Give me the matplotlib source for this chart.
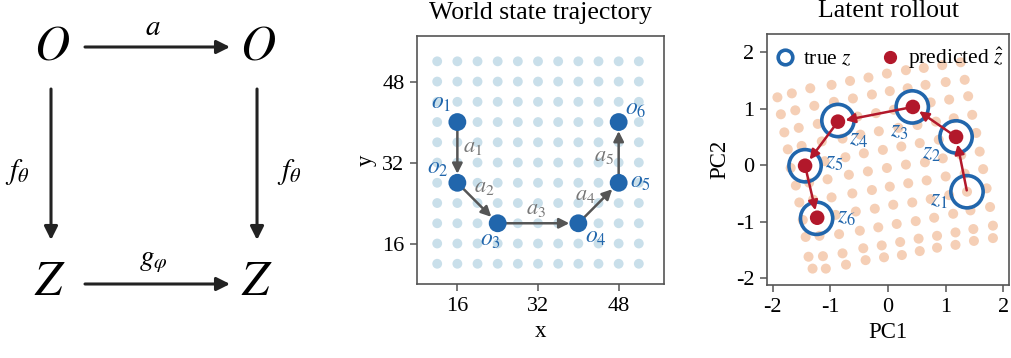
import numpy as np
import matplotlib
matplotlib.use("Agg")
import matplotlib.pyplot as plt
from matplotlib.lines import Line2D

plt.rcParams['font.family'] = ['Liberation Serif', 'DejaVu Serif']
plt.rcParams['mathtext.fontset'] = 'stix'
plt.rcParams['axes.unicode_minus'] = False

# ---------------- data ----------------
grid_x = [12, 16, 20, 24, 28, 32, 36, 40, 44, 48, 52]
grid_y = [12, 16, 20, 24, 28, 32, 36, 40, 44, 48, 52]
traj_x = [16, 16, 24, 40, 48, 48]
traj_y = [40, 28, 20, 20, 28, 40]
world_ticks = [16, 32, 48]

# latent embedding of the grid: rows = world y index, cols = world x index
latent_pc1 = [
    [1.26, 0.94, 0.62, 0.31, -0.02, -0.34, -0.66, -0.98, -1.35, -1.67, -1.92],
    [1.33, 1.00, 0.65, 0.34, 0.03, -0.28, -0.61, -0.94, -1.28, -1.61, -1.86],
    [1.39, 1.06, 0.74, 0.42, 0.10, -0.21, -0.53, -0.87, -1.22, -1.55, -1.80],
    [1.46, 1.14, 0.83, 0.51, 0.18, -0.16, -0.48, -0.79, -1.15, -1.50, -1.74],
    [1.53, 1.18, 0.88, 0.55, 0.23, -0.09, -0.42, -0.74, -1.10, -1.44, -1.69],
    [1.59, 1.27, 0.95, 0.64, 0.31, -0.02, -0.35, -0.68, -1.05, -1.37, -1.60],
    [1.65, 1.33, 1.00, 0.67, 0.35, 0.03, -0.28, -0.62, -0.98, -1.30, -1.54],
    [1.71, 1.37, 1.06, 0.74, 0.42, 0.09, -0.23, -0.56, -0.91, -1.24, -1.48],
    [1.77, 1.43, 1.13, 0.80, 0.48, 0.15, -0.17, -0.49, -0.85, -1.19, -1.43],
    [1.82, 1.48, 1.17, 0.85, 0.53, 0.21, -0.11, -0.43, -0.79, -1.13, -1.38],
    [1.82, 1.49, 1.17, 0.85, 0.55, 0.24, -0.07, -0.39, -0.73, -1.08, -1.31],
]
latent_pc2 = [
    [1.82, 1.77, 1.72, 1.68, 1.62, 1.55, 1.49, 1.42, 1.36, 1.27, 1.20],
    [1.51, 1.47, 1.42, 1.36, 1.31, 1.25, 1.18, 1.12, 1.05, 0.97, 0.90],
    [1.22, 1.16, 1.11, 1.03, 0.98, 0.92, 0.86, 0.79, 0.73, 0.66, 0.58],
    [0.89, 0.83, 0.77, 0.71, 0.66, 0.60, 0.54, 0.47, 0.42, 0.34, 0.28],
    [0.57, 0.50, 0.45, 0.39, 0.33, 0.27, 0.21, 0.14, 0.07, -0.01, -0.05],
    [0.24, 0.18, 0.12, 0.05, 0.01, -0.05, -0.11, -0.17, -0.25, -0.31, -0.36],
    [-0.07, -0.15, -0.20, -0.27, -0.32, -0.38, -0.44, -0.50, -0.57, -0.61, -0.66],
    [-0.41, -0.47, -0.53, -0.60, -0.66, -0.70, -0.77, -0.82, -0.88, -0.94, -0.97],
    [-0.74, -0.80, -0.86, -0.93, -0.99, -1.04, -1.10, -1.16, -1.22, -1.25, -1.27],
    [-1.07, -1.13, -1.19, -1.25, -1.30, -1.36, -1.42, -1.47, -1.56, -1.61, -1.62],
    [-1.29, -1.34, -1.41, -1.46, -1.52, -1.59, -1.63, -1.68, -1.76, -1.83, -1.83],
]
pred_pc1 = [1.18, 0.43, -0.87, -1.44, -1.23]
pred_pc2 = [0.50, 1.03, 0.77, -0.01, -0.93]
latent_ticks = [-2, -1, 0, 1, 2]

# ---------------- style ----------------
BLUE = '#2166ac'
RED = '#b2182b'
GRID_C = '#c9dfea'
BG_C = '#f5cfb6'
ARROW_GRAY = '#555555'
SPINE = '#555555'

fig = plt.figure(figsize=(10.11, 3.58), dpi=100)

# ---------------- left: commutative diagram ----------------
axd = fig.add_axes([0, 0, 0.33, 1])
axd.set_xlim(0, 333.6)
axd.set_ylim(358, 0)
axd.axis('off')
big = 35
axd.text(52, 47, r'$O$', fontsize=big, ha='center', va='center')
axd.text(258, 47, r'$O$', fontsize=big, ha='center', va='center')
axd.text(50, 283, r'$Z$', fontsize=big, ha='center', va='center')
axd.text(257, 283, r'$Z$', fontsize=big, ha='center', va='center')
akw = dict(arrowstyle='-|>', lw=2.2, color='#222222', mutation_scale=20,
           shrinkA=0, shrinkB=0)
axd.annotate('', xy=(230, 47), xytext=(85, 47), arrowprops=akw)
axd.annotate('', xy=(230, 284), xytext=(85, 284), arrowprops=akw)
axd.annotate('', xy=(51, 240), xytext=(51, 89), arrowprops=akw)
axd.annotate('', xy=(257, 240), xytext=(257, 89), arrowprops=akw)
axd.text(153, 28, r'$a$', fontsize=21, ha='center', va='center')
axd.text(153, 262, r'$g_\varphi$', fontsize=21, ha='center', va='center')
axd.text(17, 172, r'$f_\theta$', fontsize=21, ha='center', va='center')
axd.text(289, 172, r'$f_\theta$', fontsize=21, ha='center', va='center')


def style_axes(ax):
    for s in ax.spines.values():
        s.set_color(SPINE)
        s.set_linewidth(1.2)
    ax.tick_params(direction='out', length=5, width=1.1, color=SPINE,
                   labelsize=16, pad=4)


# ---------------- middle: world state trajectory ----------------
ax1 = fig.add_axes([0.4125, 0.2067, 0.2443, 0.6927])
gx, gy = np.meshgrid(grid_x, grid_y)
ax1.scatter(gx.ravel(), gy.ravel(), s=50, color=GRID_C, edgecolors='none', zorder=1)
for i in range(len(traj_x) - 1):
    ax1.annotate('', xy=(traj_x[i + 1], traj_y[i + 1]), xytext=(traj_x[i], traj_y[i]),
                 arrowprops=dict(arrowstyle='-|>', lw=1.8, color=ARROW_GRAY,
                                 mutation_scale=15, shrinkA=0, shrinkB=6.5),
                 zorder=2)
ax1.scatter(traj_x, traj_y, s=165, color=BLUE, edgecolors='none', zorder=3)
o_off = [(-3.3, 3.6), (-3.8, 2.8), (-1.4, -3.4), (3.4, -2.9), (4.3, 0.1), (3.3, 2.4)]
for i, (dx, dy) in enumerate(o_off):
    ax1.text(traj_x[i] + dx, traj_y[i] + dy, r'$o_{%d}$' % (i + 1), color=BLUE,
             fontsize=17, ha='center', va='center', zorder=4)
a_pos = [(19.0, 35.0), (21.4, 27.1), (31.5, 22.7), (41.4, 25.5), (45.0, 33.2)]
for i, (px, py) in enumerate(a_pos):
    ax1.text(px, py, r'$a_{%d}$' % (i + 1), color='#777777', fontsize=16,
             ha='center', va='center', zorder=4)
ax1.set_xlim(8, 57)
ax1.set_ylim(8, 57)
ax1.set_xticks(world_ticks)
ax1.set_yticks(world_ticks)
ax1.set_xlabel('x', fontsize=16.5)
ax1.set_ylabel('y', fontsize=16.5)
ax1.set_title('World state trajectory', fontsize=18.5, pad=12)
style_axes(ax1)

# ---------------- right: latent rollout ----------------
ax2 = fig.add_axes([0.7587, 0.2039, 0.2394, 0.7011])
P1 = np.array(latent_pc1)
P2 = np.array(latent_pc2)
ax2.scatter(P1.ravel(), P2.ravel(), s=52, color=BG_C, edgecolors='none', zorder=1)
ci = [(x - grid_x[0]) // (grid_x[1] - grid_x[0]) for x in traj_x]
ri = [(y - grid_y[0]) // (grid_y[1] - grid_y[0]) for y in traj_y]
true_pc1 = [P1[r, c] for r, c in zip(ri, ci)]
true_pc2 = [P2[r, c] for r, c in zip(ri, ci)]
ax2.scatter(true_pc1, true_pc2, s=540, facecolors='none', edgecolors=BLUE,
            linewidths=2.6, zorder=2)
roll1 = [true_pc1[0]] + pred_pc1
roll2 = [true_pc2[0]] + pred_pc2
for i in range(len(roll1) - 1):
    ax2.annotate('', xy=(roll1[i + 1], roll2[i + 1]), xytext=(roll1[i], roll2[i]),
                 arrowprops=dict(arrowstyle='-|>', lw=1.8, color=RED,
                                 mutation_scale=14, shrinkA=1, shrinkB=5.5),
                 zorder=3)
ax2.scatter(pred_pc1, pred_pc2, s=110, color=RED, edgecolors='none', zorder=4)
z_off = [(-0.48, -0.15), (-0.43, -0.30), (-0.23, -0.43), (0.35, -0.33), (0.50, 0.05), (0.51, 0.02)]
for i, (dx, dy) in enumerate(z_off):
    ax2.text(true_pc1[i] + dx, true_pc2[i] + dy, r'$z_{%d}$' % (i + 1), color=BLUE,
             fontsize=17, ha='center', va='center', zorder=5)
ax2.set_xlim(-2.1, 2.1)
ax2.set_ylim(-2.12, 2.32)
ax2.set_xticks(latent_ticks)
ax2.set_yticks(latent_ticks)
ax2.set_xlabel('PC1', fontsize=16.5)
ax2.set_ylabel('PC2', fontsize=16.5)
ax2.set_title('Latent rollout', fontsize=18.5, pad=12)
handles = [
    Line2D([], [], linestyle='none', marker='o', markerfacecolor='none',
           markeredgecolor=BLUE, markeredgewidth=2.6, markersize=10.5),
    Line2D([], [], linestyle='none', marker='o', color=RED, markersize=8.5),
]
ax2.legend(handles, [r'true $z$', r'predicted $\hat{z}$'], loc='upper center',
           ncol=2, frameon=False, fontsize=15.5, handletextpad=0.2,
           columnspacing=1.2, borderaxespad=0.15, handlelength=1.2)
style_axes(ax2)

fig.savefig('out.png', dpi=100)
